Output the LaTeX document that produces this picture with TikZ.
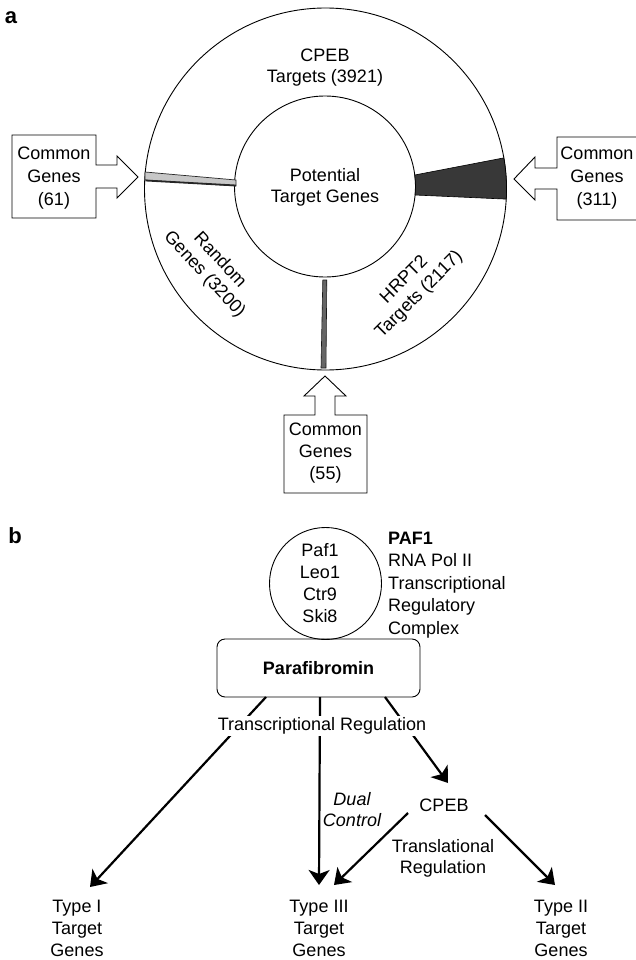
\documentclass[tikz,border=0pt]{standalone}
\usepackage{fontspec}
\setmainfont{Liberation Sans}
\usetikzlibrary{arrows.meta,calc}
\begin{document}
\begin{tikzpicture}[x=1pt,y=-1pt,
  fine/.style={line width=0.9pt},
  atxt/.style={font=\fontsize{18}{21}\selectfont, align=center, inner sep=0pt},
  boxtxt/.style={font=\fontsize{18}{23}\selectfont, align=center, inner sep=0pt},
  btxt/.style={font=\fontsize{18}{22}\selectfont, align=center, inner sep=0pt},
  lbl/.style={font=\bfseries\fontsize{22}{22}\selectfont, inner sep=0pt},
  arr/.style={line width=2.2pt, -{Stealth[length=15pt,width=21pt,inset=4pt]}}]
\useasboundingbox (0,0) rectangle (636,960);

% ---------- panel a ----------
\node[lbl] (la) at (11,18) {a};
\node[circle,draw,fine,minimum size=362pt,inner sep=0pt] (outer) at (325.5,189) {};
\node[circle,draw,fine,minimum size=181pt,inner sep=0pt] (inner) at (325,186.5) {};

% wedges
\filldraw[fill=black!22, draw=black!85, line width=0.7pt] (145,172) -- (236,180) -- (236,186) -- (145,180) -- cycle;
\draw[line width=1.8pt, black!85] (145.5,180.5) -- (236,185.5);
\filldraw[fill=black!78, draw=black, line width=0.6pt]
  ($(inner.center)+(-7.3:90.5)$) -- ($(outer.center)+(-9.9:181)$)
  arc[start angle=-9.9,end angle=3.2,radius=181]
  -- ($(inner.center)+(5.4:90.5)$)
  arc[start angle=5.4,end angle=-7.3,radius=90.5] -- cycle;
\filldraw[fill=black!60, draw=black!90, line width=0.6pt] (322.8,280) -- (326.8,280) -- (326,368) -- (321,368) -- cycle;

% texts in circles
\node[atxt] (cpeb1) at (325,67.5) {CPEB\\Targets (3921)};
\node[atxt] (pot) at (325,187) {Potential\\Target Genes};
\node[atxt, rotate=-47] (rand) at (212,267.5) {Random\\Genes (3200)};
\node[atxt, rotate=45] (hrpt) at (412,287.6) {HRPT2\\Targets (2117)};

% common-gene boxes with arrows
\draw[fine] (12,135) -- (96,135) -- (96,165) -- (117,165) -- (117,156) -- (138,177)
  -- (117,198) -- (117,188) -- (96,188) -- (96,218) -- (12,218) -- cycle;
\node[boxtxt] (cg1) at (54,178.4) {Common\\Genes\\(61)};

\draw[fine] (637,137) -- (557,137) -- (557,168) -- (535,168) -- (535,157) -- (514,179)
  -- (535,200) -- (535,189) -- (557,189) -- (557,220) -- (637,220);
\node[boxtxt] (cg2) at (597,178) {Common\\Genes\\(311)};

\draw[fine] (284,415) -- (315,415) -- (315,396) -- (304,396) -- (325,376) -- (346,396)
  -- (335,396) -- (335,415) -- (367,415) -- (367,493) -- (284,493) -- cycle;
\node[font=\fontsize{18}{22}\selectfont, align=center, inner sep=0pt] (cg3) at (325.5,453) {Common\\Genes\\(55)};

% ---------- panel b ----------
\node[lbl] (lb) at (15,536) {b};
\node[circle,draw,fine,minimum size=112pt,inner sep=0pt] (cplx) at (325.5,583.5) {};
\node[btxt] (cplxtxt) at (320,583) {Paf1\\Leo1\\Ctr9\\Ski8};
\node[font=\fontsize{18}{22.5}\selectfont, align=left, inner sep=0pt, anchor=north west] (paf)
  at (388,531.6) {\textbf{PAF1}\\RNA Pol II\\Transcriptional\\Regulatory\\Complex};
\node[draw,fine,rounded corners=8pt,minimum width=203pt,minimum height=58pt,inner sep=0pt,
  font=\bfseries\fontsize{18}{22}\selectfont] (para) at (318.5,668) {Parafibromin};

\coordinate (p1) at (266,697);
\coordinate (p2) at (320,697);
\coordinate (p3) at (385,697);
\coordinate (t1) at (90,887);
\coordinate (t3a) at (319,885);
\coordinate (t3b) at (334,885);
\coordinate (t2) at (555,885);
\coordinate (cin) at (448,783);
\coordinate (cs1) at (408,813);
\coordinate (cs2) at (485,815);

\draw[arr] (p1) -- (t1);
\draw[arr] (p2) -- (t3a);
\draw[arr] (p3) -- (cin);
\node[fill=white, inner sep=2pt, font=\fontsize{18}{22}\selectfont] (treg) at (322,726) {Transcriptional Regulation};

\node[btxt] (cpeb) at (444,805) {CPEB};
\draw[arr] (cs1) -- (t3b);
\draw[arr] (cs2) -- (t2);

\node[font=\itshape\fontsize{18}{21}\selectfont, align=center, inner sep=0pt] (dual) at (352,809.5) {Dual\\Control};
\node[font=\fontsize{18}{21}\selectfont, align=center, inner sep=0pt] (transl) at (443,858) {Translational\\Regulation};

\node[btxt] (ty1) at (77,928) {Type I\\Target\\Genes};
\node[btxt] (ty3) at (319,928) {Type III\\Target\\Genes};
\node[btxt] (ty2) at (561,928) {Type II\\Target\\Genes};
\end{tikzpicture}
\end{document}
